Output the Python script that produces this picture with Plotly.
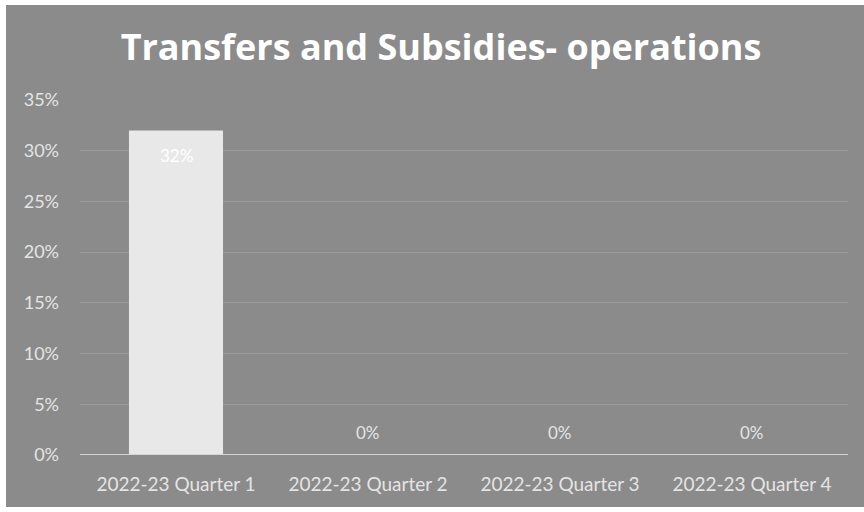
import plotly.graph_objects as go

# Quarterly share of spend for transfers and subsidies (operations)
quarters = ["2022-23 Quarter 1", "2022-23 Quarter 2", "2022-23 Quarter 3", "2022-23 Quarter 4"]
shares = [0.32, 0.0, 0.0, 0.0]
tick_vals = [0, 0.05, 0.10, 0.15, 0.20, 0.25, 0.30, 0.35]
tick_text = ["0%", "5%", "10%", "15%", "20%", "25%", "30%", "35%"]

W, H = 864, 512
L, R, T, B = 80, 16, 100, 57
pw, ph = W - L - R, H - T - B

def px_x(p):
    return (p - L) / pw

def px_y(q):
    return (H - B - q) / ph

GREY = "#8b8b8b"
LABEL = "#e4e4e4"

fig = go.Figure()
fig.add_trace(go.Bar(
    x=list(range(len(quarters))),
    y=shares,
    width=0.49,
    marker=dict(color="#e8e8e8", line=dict(width=0)),
    hoverinfo="skip",
))

annotations = []
for i, v in enumerate(shares):
    if v > 0:
        annotations.append(dict(x=i, y=v, xref="x", yref="y", text=f"{v:.0%}",
                                showarrow=False, yshift=-25,
                                font=dict(family="Lato", size=17, color="#ffffff")))
    else:
        annotations.append(dict(x=i, y=v, xref="x", yref="y", text=f"{v:.0%}",
                                showarrow=False, yshift=23,
                                font=dict(family="Lato", size=17, color=LABEL)))

# framed grey chart area inside a thin white border
shapes = [
    dict(type="rect", xref="paper", yref="paper", layer="below",
         x0=px_x(6), x1=px_x(866), y0=px_y(507), y1=px_y(5),
         fillcolor=GREY, line=dict(width=0)),
    dict(type="line", xref="paper", yref="y", x0=0, x1=1, y0=0, y1=0,
         line=dict(color="#d4d4d4", width=2)),
]

fig.update_layout(
    width=W, height=H,
    margin=dict(l=L, r=R, t=T, b=B),
    paper_bgcolor="#ffffff",
    plot_bgcolor="rgba(0,0,0,0)",
    showlegend=False,
    title=dict(text="<b>Transfers and Subsidies- operations</b>",
               x=441 / W, xref="container", xanchor="center",
               y=1 - 47 / H, yanchor="middle", yref="container",
               font=dict(family="Open Sans", size=36, color="#ffffff")),
    xaxis=dict(range=[-0.5, 3.5], tickvals=list(range(len(quarters))), ticktext=quarters,
               showgrid=False, zeroline=False, showline=False, ticks="",
               ticklabelstandoff=16,
               tickfont=dict(family="Lato", size=19, color=LABEL)),
    yaxis=dict(range=[0, 0.35], tickvals=tick_vals, ticktext=tick_text,
               showgrid=True, gridcolor="rgba(255,255,255,0.14)", gridwidth=1,
               zeroline=False, showline=False, ticks="", ticklabelstandoff=20,
               tickfont=dict(family="Lato", size=18, color=LABEL)),
    annotations=annotations,
    shapes=shapes,
)

fig.write_html("out.html")
